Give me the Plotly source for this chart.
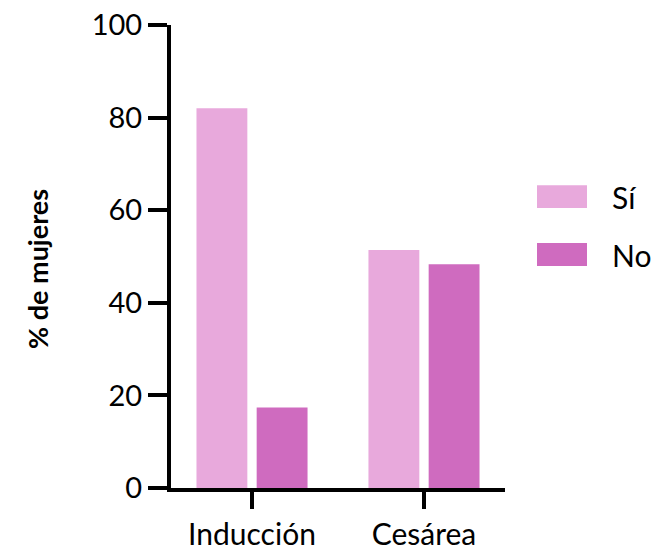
import plotly.graph_objects as go

# ---- data ----
categories = ["Inducción", "Cesárea"]
series_names = ["Sí", "No"]
values_si = [82.0, 51.4]
values_no = [17.4, 48.3]
y_tick_values = [0, 20, 40, 60, 80, 100]
y_tick_labels = ["0", "20", "40", "60", "80", "100"]
y_title = "% de mujeres"

colors = ["#E8A9DC", "#CF6BBF"]
FONT = "Lato, 'Open Sans', sans-serif"

W, H = 664, 552
L = 171
R = W - 505
T = 24.5
B = H - 488.5

fig = go.Figure()
for name, vals, col in zip(series_names, [values_si, values_no], colors):
    fig.add_trace(go.Bar(x=categories, y=vals, name=name, marker=dict(color=col, line=dict(width=0)),
                         showlegend=False))

fig.update_layout(
    width=W, height=H,
    margin=dict(l=L, r=R, t=T, b=B, autoexpand=False),
    paper_bgcolor="white", plot_bgcolor="white",
    barmode="group", bargap=0.30, bargroupgap=0.155,
    font=dict(family=FONT, color="black"),
)
fig.update_xaxes(
    type="category", range=[-0.471, 1.471],
    showline=True, linewidth=4, linecolor="black",
    ticks="outside", ticklen=17, tickwidth=4, tickcolor="black",
    tickfont=dict(size=30, family=FONT, color="black"),
    showgrid=False, zeroline=False, automargin=False,
)
fig.update_yaxes(
    range=[0, 100], tickvals=y_tick_values, ticktext=y_tick_labels,
    showline=True, linewidth=4, linecolor="black",
    ticks="outside", ticklen=19, tickwidth=4, tickcolor="black",
    tickfont=dict(size=29, family=FONT, color="black"),
    ticklabeloverflow="allow",
    showgrid=False, zeroline=False, automargin=False,
)

plot_w = W - L - R
plot_h = H - T - B
def px_x(p):
    return (p - L) / plot_w
def px_y(p):
    return (H - B - p) / plot_h

# y-axis title
fig.add_annotation(xref="paper", yref="paper", x=px_x(38), y=px_y(269),
                   text="<b>" + y_title + "</b>", textangle=-90, showarrow=False,
                   xanchor="center", yanchor="middle",
                   font=dict(size=27, family=FONT, color="black"))

# custom legend (large swatches)
sw_x0, sw_x1 = 537, 587
sw_tops = [185, 243]
sw_h = 23
for name, col, top in zip(series_names, colors, sw_tops):
    fig.add_shape(type="rect", xref="paper", yref="paper",
                  x0=px_x(sw_x0), x1=px_x(sw_x1), y0=px_y(top + sw_h), y1=px_y(top),
                  fillcolor=col, line=dict(width=0))
    fig.add_annotation(xref="paper", yref="paper", x=px_x(610), y=px_y(top + sw_h / 2),
                       text=name, showarrow=False, xanchor="left", yanchor="middle",
                       font=dict(size=30, family=FONT, color="black"))

fig.write_html("out.html", config={"displayModeBar": False},
               post_script="document.body.style.margin='0';document.body.style.overflow='hidden';")
